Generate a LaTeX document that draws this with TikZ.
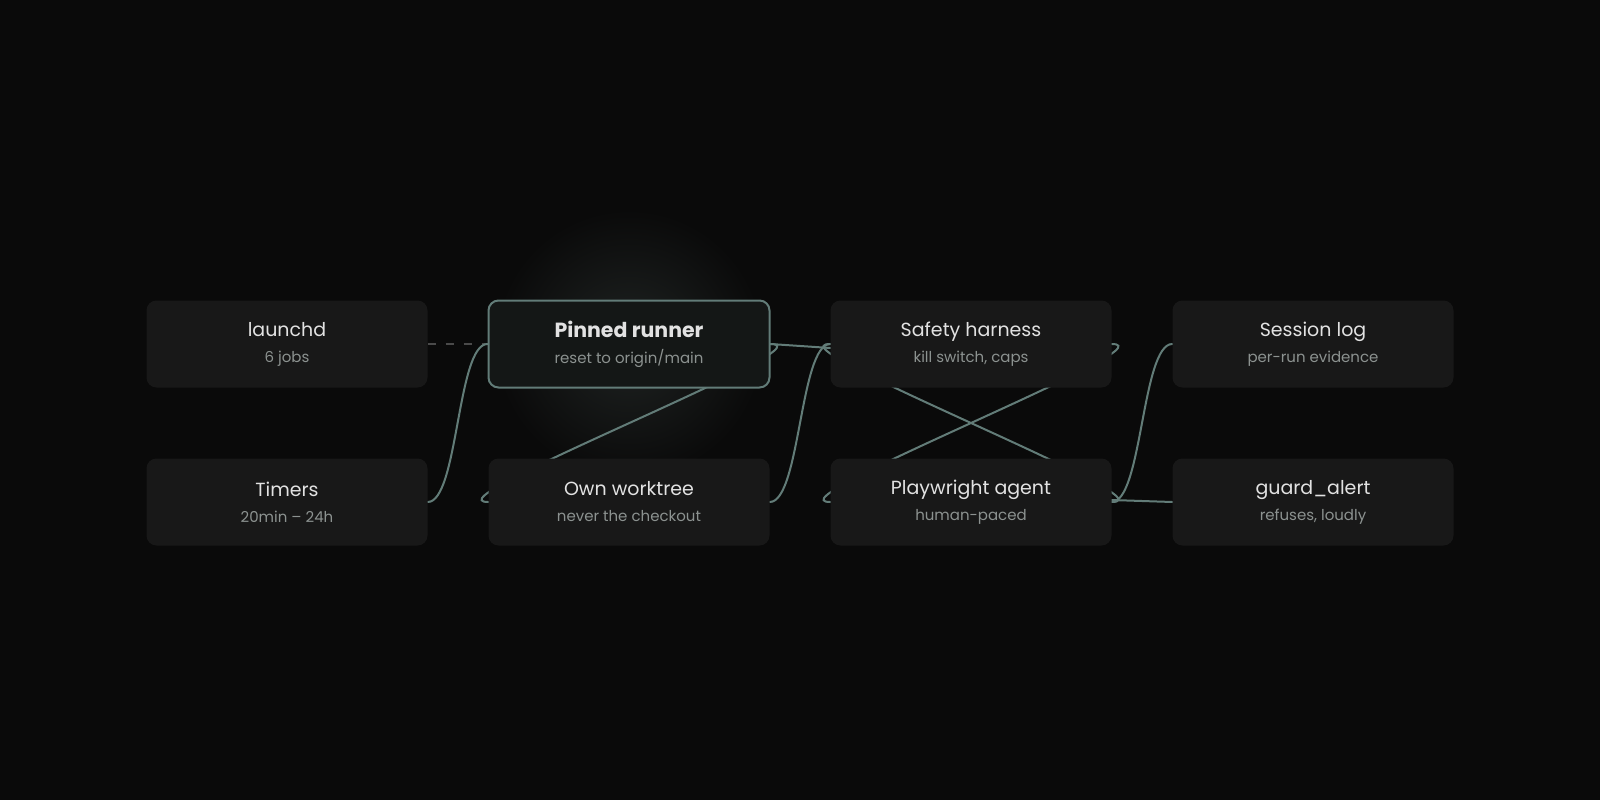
\documentclass[tikz,border=0pt]{standalone}
\usepackage{fontspec}
\setmainfont{Poppins}
\usetikzlibrary{positioning,backgrounds}
\definecolor{ink_bg}{HTML}{0a0a0a}
\definecolor{glow_grey}{HTML}{1f2322}
\definecolor{card_grey}{HTML}{181818}
\definecolor{pinned_fill}{HTML}{141716}
\definecolor{edge_teal}{HTML}{627c78}
\definecolor{dash_grey}{HTML}{4a4a4a}
\definecolor{title_white}{HTML}{e2e2e2}
\definecolor{sub_grey}{HTML}{8c9290}
\tikzstyle{line}    = [draw, line width=2pt, edge_teal, line cap=round]
\tikzstyle{dashline}    = [draw, line width=2pt, dash_grey, dash pattern=on 8pt off 10pt]
\tikzstyle{card}    = [rectangle, rounded corners=10pt, fill=card_grey, text=title_white, minimum width=281pt, minimum height=87pt, inner sep=0pt, align=center, font=\fontsize{15}{26}\selectfont]
\tikzstyle{pinned}    = [card, fill=pinned_fill, draw=edge_teal, line width=2pt]
\newcommand{\cardtext}[2]{{\fontsize{19}{26}\selectfont #1}\\{\color{sub_grey}#2}}

\begin{document}
\begin{tikzpicture}[x=1pt, y=-1pt]
   \begin{pgfonlayer}{background}
      \fill [ink_bg] (0,0) rectangle (1600,800);
      \shade [inner color=glow_grey, outer color=ink_bg] (629,344) circle (135);
   \end{pgfonlayer}

   % Triggers
   \node at (287,344) [card] (launchd) {\cardtext{launchd}{6 jobs}};
   \node at (287,502) [card] (timers) {\cardtext{Timers}{20min – 24h}};

   % Runner
   \node at (629,344) [pinned] (pinned runner) {{\fontsize{20.5}{26}\selectfont\bfseries Pinned runner}\\{\color{sub_grey}reset to origin/main}};
   \node at (629,502) [card] (own worktree) {\cardtext{Own worktree}{never the checkout}};

   % Harness and agent
   \node at (971,344) [card] (safety harness) {\cardtext{Safety harness}{kill switch, caps}};
   \node at (971,502) [card] (playwright agent) {\cardtext{Playwright agent}{human-paced}};

   % Outputs
   \node at (1313,344) [card] (session log) {\cardtext{Session log}{per-run evidence}};
   \node at (1313,502) [card] (guard alert) {\cardtext{guard\_alert}{refuses, loudly}};

   \begin{pgfonlayer}{background}
      \path [dashline] (launchd) -- (pinned runner);
      \path [line] (timers.east) .. controls +(30.5,0) and +(-30.5,0) .. (pinned runner.west);
      \path [line] (pinned runner.east) -- ([yshift=-4pt]safety harness.west);
      \path [line] (pinned runner.east) .. controls +(64,0) and +(-64,0) .. (own worktree.west);
      \path [line] (own worktree.east) .. controls +(30.5,0) and +(-30.5,0) .. (safety harness.west);
      \path [line] (safety harness.east) .. controls +(64,0) and +(-64,0) .. (playwright agent.west);
      \path [line] (playwright agent.east) .. controls +(64,0) and +(-64,0) .. (safety harness.west);
      \path [line] (playwright agent.east) .. controls +(30.5,0) and +(-30.5,0) .. (session log.west);
      \path [line] ([yshift=2pt]playwright agent.east) -- (guard alert.west);
   \end{pgfonlayer}
\end{tikzpicture}
\end{document}
